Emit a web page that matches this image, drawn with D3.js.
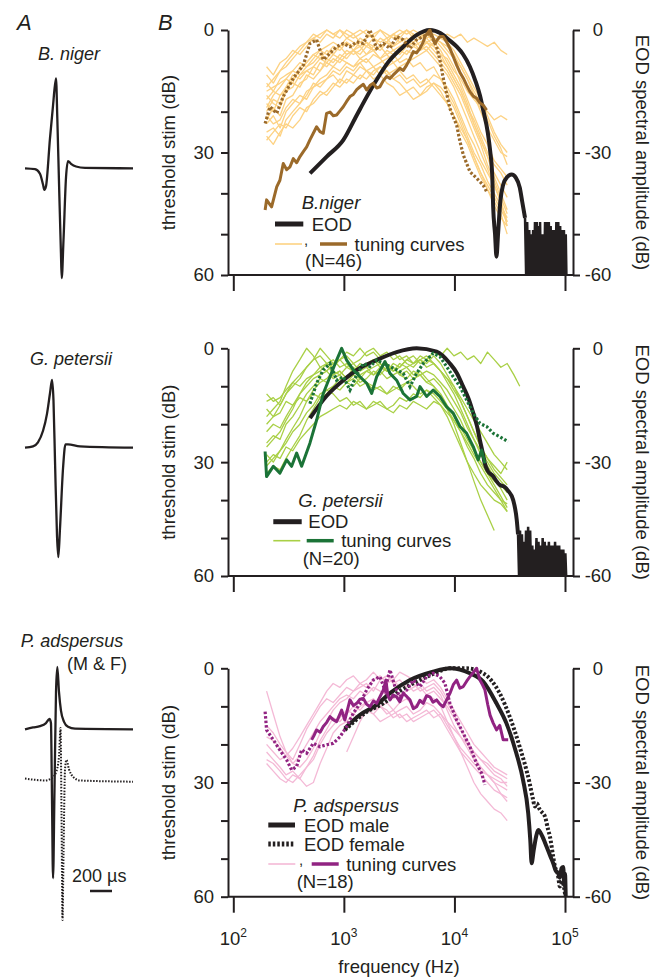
<!DOCTYPE html>
<html>
<head>
<meta charset="UTF-8">
<script src="https://d3js.org/d3.v7.min.js"></script>
<style>
  body { margin: 0; background: #fff; }
  svg text { font-family: "Liberation Sans", Arial, sans-serif; fill: #231f20; }
</style>
</head>
<body>
<svg id="fig" width="662" height="978"></svg>
<script>
// --- frequency grid (Hz) shared by the thin tuning curves ---
const freqGrid = [200,230,265,300,345,400,460,530,610,700,800,920,1060,1220,1400,1600,1850,2130,2450,2800,3200,3700,4250,4900,5600,6500,7500,8600,9900,11400,13100,15000,17300,19900,22900,26300,30000,34500,39000];
const xTicks = [100, 1000, 10000, 100000];
const xTickExp = ["2", "3", "4", "5"];
const yTicks = [0, 10, 20, 30, 40, 50, 60];

// --- B. niger ---
const nigerLight = [
  [14,12,10,9,7,5,3,2,1,0,1,0,2,1,0,1,2,0,1,2,1,0,1,2,1,3,2,1,2,1,3,2,3,4,3,5,6],
  [9,11,8,7,5,6,4,2,3,1,2,0,1,2,1,0,2,3,2,4,3,2,3,5,4,6,8,10,13,16,20,24,28,33,37,41,45],
  [18,20,16,15,12,10,8,6,5,4,3,4,2,3,4,3,5,4,6,5,4,3,2,4,3,5,7,9,12,15,19,22,26,30,33,35,38],
  [22,19,21,17,16,13,12,9,10,7,8,6,7,5,6,4,5,7,6,8,7,5,6,4,5,3,5,8,11,14,18,23,27,31,36,40,44],
  [25,24,26,22,20,18,15,14,12,11,9,10,8,9,7,8,6,7,5,6,8,7,9,8,10,9,12,14,17,21,25,28,32,35,38,42,48],
  [13,15,12,11,10,8,9,7,5,6,4,5,3,4,2,3,5,4,3,5,6,4,3,2,1,2,3,5,7,9,12,16,20,24,27,30,31],
  [27,25,23,24,21,19,20,17,15,16,14,12,13,11,12,10,11,9,10,12,11,13,12,14,13,11,12,15,18,22,26,30,33,37,40,43,46],
  [16,18,19,15,14,11,10,11,8,9,7,8,6,5,7,6,4,5,3,4,2,3,1,2,0,2,4,6,9,13,17,21,25,28,32,34,36],
  [20,17,18,14,13,14,11,12,10,8,9,7,8,9,8,10,9,11,10,12,13,15,14,16,15,13,14,16,19,23,27,31,35,39,42,45,50],
  [23,21,24,20,18,16,17,14,13,12,10,11,9,10,8,7,9,8,7,6,5,6,4,5,3,4,6,7,10,12,15,17,19,20,22,21,22],
  [11,13,10,8,6,4,3,1,2,0,1,2,0,1,3,2,1,0,2,1,3,2,4,3,2,4,6,9,12,15,19,23,27,31,35,38,41],
  [26,28,25,23,24,22,19,18,16,15,13,14,12,13,11,12,10,9,11,10,9,8,7,6,5,7,9,11,14,18,22,26,30,34,38,42,47],
  [19,16,14,12,13,9,8,6,7,5,6,4,3,5,4,6,5,7,9,8,10,12,11,13,12,14,16,18,21,24,27,31,35,38,41,44,47],
  [15,14,13,12,10,11,9,8,6,7,5,4,6,5,3,4,2,4,3,1,2,0,2,1,3,2,3,4,6,9,12,15,18,22,26,29,33],
  [21,23,22,19,17,18,16,13,14,12,11,13,10,11,9,10,12,11,13,14,16,15,17,16,14,13,15,18,21,25,28,32,36,39,43,46,48],
  [17,15,16,14,11,12,10,9,7,8,6,7,5,6,5,3,4,2,3,1,0,1,0,1,2,1,2,3,5,8,11,14,17,21,25,28,30]
];
const nigerEOD = [[494,35.1],[700,31],[990,26.9],[1300,21],[1600,16.5],[1980,12.2],[2500,8],[3440,4.1],[4500,1.3],[6000,0],[7500,0.8],[9000,2.5],[10500,4.1],[12000,6],[13800,9],[15500,12.5],[17000,16],[18200,19.6],[20000,25],[21000,29.4],[22000,36],[22400,43.3],[23300,50],[24000,55.5],[24800,50],[26000,42],[27500,38],[30000,36],[32900,35.4],[36000,36.2],[39000,38.6],[41000,42],[43500,46]];
const nigerNoise = [[43500,46],[44500,60],[45500,47],[46500,60],[47500,49],[48500,60],[49500,50],[50500,60],[51500,49],[52500,60],[53500,47],[54500,60],[55500,47],[56500,60],[57500,48],[58500,60],[59500,47],[60500,60],[61500,50],[62500,60],[63500,50],[64700,60],[66000,47],[67300,60],[68600,47],[70000,60],[71400,47],[72800,60],[74200,48],[75700,60],[77200,49],[78700,60],[80300,49],[81900,60],[83500,47],[85200,60],[86900,47],[88600,60],[90400,48],[92200,60],[94000,49],[95900,60],[97800,49],[99700,60],[101600,50],[103000,60]];
const nigerTuning = [[194,44.1],[200,41.6],[222,43.3],[247,38.4],[264,36.8],[283,32.7],[304,34.2],[326,33.5],[349,31.5],[374,32.5],[401,31],[430,29.8],[461,28.6],[493,26.9],[529,25.3],[567,23.7],[608,24.9],[651,25.3],[698,20.4],[749,20.1],[802,21],[860,20.8],[922,19.8],[988,18.8],[1059,17.5],[1135,16.3],[1217,15.8],[1306,14.6],[1400,13.9],[1500,13.3],[1607,14.7],[1722,13.6],[1845,13],[1980,14.2],[2118,13.9],[2275,12.4],[2436,11.4],[2612,11.9],[2798,11],[3000,10.2],[3213,9.4],[3446,9.9],[3696,8.6],[3960,7.1],[4246,5.3],[4550,5.6],[4877,4.5],[5227,2.9],[5410,1.6],[6000,0],[6427,2.1],[6660,3.3],[7000,2.4],[7390,1.6],[7920,1.6],[8490,2.9],[9100,4.5],[9750,6.5],[10470,8.6],[11220,10.4],[12030,11.8],[12890,13.5],[13810,15.1],[14800,16.2],[15860,16.7],[17000,17.9],[18210,18.4],[19540,19.6]];
const nigerTuningDot = [[194,22.9],[215,18.8],[247,20.4],[283,16.3],[349,11.8],[430,8.6],[493,3.3],[567,2.4],[651,7.3],[749,5.7],[860,4.1],[988,3.3],[1135,4.1],[1306,2.9],[1500,3.3],[1722,0],[1980,4.5],[2275,3.3],[2612,4.5],[3000,1.6],[3446,2.4],[3960,4.5],[4550,2.4],[5227,1.6],[6000,0.8],[6900,4.1],[7390,7.3],[7920,11.8],[9100,19.2],[10470,23.3],[11220,27.3],[12030,30.6],[13810,34.7],[15860,36.3],[18210,38],[19540,39.6]];

// --- G. petersii ---
const petersiiLight = [
  [20,18,15,12,9,7,5,3,2,4,3,5,4,6,5,4,3,5,4,6,5,3,2,4,3,1,2,0,2,1,3,2,4,1,3,5,4,7,10],
  [14,13,15,12,10,8,5,3,0,2,4,3,5,4,6,5,7,6,8,7,6,5,4,3,2,4,6,9,12,16,20,24,28,31,34,37,40],
  [25,23,24,20,18,15,12,10,8,9,7,6,8,5,7,6,5,4,6,5,7,6,8,7,9,8,10,13,16,19,23,27,30,33,36,39,42],
  [30,28,29,26,27,24,22,20,18,17,16,15,16,14,15,16,14,15,16,17,15,16,14,15,16,14,15,17,19,22,25,28,31,34,37,40,43],
  [18,16,14,10,6,3,0,2,5,4,7,6,8,7,9,8,6,7,5,6,4,5,7,6,8,10,13,16,20,25,30,35,40,44,48],
  [28,30,27,25,22,20,17,15,12,11,10,8,9,7,8,6,7,5,6,4,5,3,4,2,3,4,6,8,11,14,18,22,26,29,32,34,36],
  [33,31,32,29,26,23,19,16,13,12,10,11,9,10,8,9,10,11,12,10,11,9,10,12,11,13,15,18,22,26,30,33,36,38,40,41,43],
  [22,20,21,18,15,12,9,7,6,4,5,3,1,2,0,2,1,3,2,1,3,2,4,3,5,4,6,8,10,13,16,19,22,25,28,30,32],
  [16,18,17,14,15,13,14,12,13,11,12,14,13,15,14,16,15,14,16,15,13,14,12,13,11,12,14,16,19,22,26,29,33,36,38,40,41],
  [26,24,22,19,16,12,10,8,7,6,8,7,9,8,10,9,11,10,12,11,10,9,8,7,6,7,9,11,14,17,21,24,27,30,33,35,37],
  [12,14,13,11,9,10,8,7,5,6,4,3,2,4,3,1,0,2,1,3,2,4,5,3,4,2,4,7,10,14,18,22,26,29,31,33,30],
  [31,29,27,24,21,18,14,11,9,8,6,7,5,6,4,5,3,4,6,5,7,8,6,7,9,10,12,15,18,21,24,27,30,33,35,36,38]
];
const petersiiEOD = [[494,18.4],[700,12.5],[990,8.4],[1400,5.2],[1980,3.1],[3000,1],[4550,0],[6900,0.9],[9100,4],[10500,6.5],[12000,10.1],[13500,13.5],[14800,17.1],[16000,20.5],[17000,24.2],[18000,27.5],[18800,30.3],[20000,32.3],[22400,33.7],[24000,35],[25700,36],[28000,36.4],[30500,37.5],[34000,40],[36600,45.2],[37600,49]];
const petersiiNoise = [[37600,49],[38400,60],[39200,48],[40000,60],[40800,49],[41700,60],[42600,51],[43500,60],[44400,48],[45400,60],[46400,47],[47400,60],[48400,48],[49500,60],[50600,52],[51700,60],[52800,53],[54000,60],[55200,50],[56400,60],[57600,51],[58900,60],[60200,52],[61500,60],[62800,50],[64200,60],[65600,51],[67000,60],[68500,52],[70000,60],[71500,51],[73000,60],[74600,52],[76200,60],[77900,52],[79600,60],[81300,51],[83100,60],[84900,52],[86700,60],[88600,52],[90500,60],[92500,53],[94500,60],[96600,53],[98700,60],[100800,54],[102500,60]];
const petersiiTuning = [[194,27.2],[200,33.8],[230,31.1],[264,32.9],[304,29.4],[337,31.1],[374,27.6],[415,31.1],[493,25],[567,18.9],[651,11.9],[749,7.5],[860,3.1],[955,0],[1059,3.1],[1217,5.7],[1400,7.5],[1607,9.2],[1783,11.9],[1980,7.5],[2355,3.5],[2612,6.6],[3000,8.4],[3446,11.9],[3960,13.6],[4550,12.7],[4877,10.1],[5606,12.7],[6427,11],[7390,12.7],[8490,15.4],[9750,17.1],[11220,20.6],[12890,22.4],[14800,25.9],[16410,29.4],[17620,26.8],[18870,30.3]];
const petersiiTuningDot = [[493,14.6],[567,9.2],[651,5.7],[749,4],[860,8.4],[988,7.5],[1135,11],[1306,7],[1500,4],[1722,4.8],[1980,3.1],[2612,4.8],[3446,6.6],[3960,10.1],[4550,6.6],[5227,4],[6427,1.3],[7390,2.2],[8490,4.8],[9750,7.5],[11220,10.1],[12890,13.6],[14800,17.1],[17000,19.8],[19540,20.6],[22430,22.4],[25760,23.3],[30630,24.6]];

// --- P. adspersus ---
const adspersusLight = [
  [6,12,18,22,24,20,16,13,10,8,9,7,5,6,4,5,3,2,4,3,5,4,6,5,7,6,8,10,13,16,19,22,24,26,28,29,31],
  [22,24,26,28,27,29,26,24,20,17,15,13,11,12,10,9,11,10,12,11,9,8,10,9,7,8,10,14,18,22,26,30,33,35,37,38,40],
  [25,27,29,30,28,29,31,30,25,21,17,15,14,12,13,11,12,14,13,12,11,10,12,11,9,10,12,15,18,21,23,25,27,28,29,30,30],
  [18,19,21,23,21,18,15,12,9,6,4,5,3,2,4,3,1,3,2,4,3,5,4,6,5,4,6,9,12,16,20,23,26,28,30,31,32],
  [15,17,20,22,25,23,20,17,14,12,10,8,7,8,6,7,5,6,7,8,7,6,5,4,6,5,7,11,15,18,21,24,26,28,30,33,35],
  [null,null,null,null,null,null,null,null,null,null,null,null,22,18,14,11,12,10,11,13,12,14,13,12,11,13,12,14,16,18,20,22,24,25,27,28,29],
  [20,22,24,23,25,26,24,21,17,14,11,9,8,6,5,4,6,3,2,3,1,2,3,2,4,3,5,8,11,14,17,20,22,24,26,27,28],
  [24,25,27,29,30,28,26,23,19,16,13,14,12,10,11,9,8,10,9,11,13,12,14,13,12,11,13,16,19,22,24,26,28,30,32,33,34]
];
const adspersusEODMale = [[1020,15.8],[1400,12.2],[1980,9.6],[2600,6.6],[3960,3.1],[6400,0.9],[9100,0],[13800,1.3],[18200,3.5],[24000,9.2],[29500,14.4],[36300,22.3],[41700,29.3],[46500,38.1],[48500,45],[49900,51.2],[52000,48],[55000,44],[57300,42.5],[62000,44],[68200,46.9],[74000,49.5],[78200,51.2],[82000,53],[86900,53.9],[90000,55],[93000,52.5],[96400,52.2],[98500,57],[100000,54],[101500,60]];
const adspersusEODFemale = [[1020,16.2],[1600,11.5],[2280,9.2],[3200,6],[4550,3.5],[6400,1.5],[9100,0],[12900,0],[18200,1.3],[25700,6.6],[31600,12.7],[38900,20.6],[47900,30.2],[51000,34],[53500,36.3],[55400,35.5],[59300,37.2],[65800,38.9],[70500,42.5],[73100,44.2],[78200,49.5],[81100,52.1],[86000,54],[90000,57.3],[95000,56],[99800,59],[101000,60]];
const adspersusTuning = [[511,18.8],[540,17.5],[567,16.2],[610,16.8],[651,15.3],[700,14.2],[749,12.7],[800,13.5],[860,14],[955,11],[1020,13.6],[1135,8.3],[1220,9.8],[1306,9.2],[1400,8.1],[1500,7.9],[1600,9.4],[1722,10.1],[1850,8.6],[1980,9.2],[2275,5.7],[2400,3.1],[2500,7.2],[2612,8.3],[2800,7],[3000,7.5],[3200,8.8],[3446,6.6],[3700,7.4],[3960,8.3],[4250,10.6],[4550,10.1],[4877,8.4],[5227,9.2],[5600,7.2],[6000,7.5],[6400,8.9],[6900,8.3],[7400,9.4],[7920,10.1],[8500,8.3],[9100,6.6],[9800,4.2],[10470,3.1],[11200,5.2],[12030,4.8],[12900,3.4],[13810,2.2],[14800,1.1],[15860,0],[17000,3.1],[18000,4.4],[18870,5.7],[20000,9.5],[21000,12.3],[22430,14.4],[24040,16.2],[25700,15],[27600,18.8],[30630,18.8]];
const adspersusTuningDot = [[194,11.4],[200,16.2],[230,18.8],[264,21.5],[304,24.1],[337,26.7],[374,25.8],[415,21.4],[461,22.3],[529,19.7],[608,20.6],[698,20.1],[802,19.7],[922,18],[1059,15.3],[1217,11.8],[1400,9.2],[1607,5.7],[1845,3.1],[2118,2.2],[2355,5.7],[2612,0.4],[2897,4.8],[3213,7.5],[3696,5.7],[4246,3.1],[4877,4.8],[5606,2.2],[6427,1.3],[7390,2.2],[8200,3.9],[9100,9.2],[10470,13.6],[12030,17.1],[13810,20.6],[15860,25],[17620,27.6],[18870,30.6]];

// --- EOD waveforms (time in µs, amplitude normalised) ---
const nigerWave = [[9,0],[100,-0.01],[145,-0.06],[173,-0.18],[185,-0.24],[200,-0.2],[236,0.33],[264,0.7],[291,1.0],[303,0.55],[318,-0.15],[336,-0.95],[343,-1.22],[359,-0.8],[382,-0.1],[400,0.08],[427,0.05],[473,0.02],[555,0.005],[991,0]];
const petersiiWave = [[9,0],[82,0.02],[127,0.08],[173,0.25],[209,0.5],[236,0.8],[255,1.0],[268,0.7],[282,-0.2],[300,-1.3],[312,-1.617],[327,-1.2],[355,-0.3],[377,0.05],[400,0.05],[509,0.02],[991,0]];
const adspersusWaveMale = [[9,0],[82,0.03],[145,0.05],[200,0.1],[232,0.165],[245,0.1],[255,-1.2],[264,-2.39],[277,-1.0],[291,0.6],[303,1.0],[318,0.6],[336,0.3],[364,0.12],[400,0.04],[464,0.01],[991,0]];
const adspersusWaveFemale = [[9,0.05],[100,0.03],[191,0.02],[255,0.06],[291,0.15],[318,0.4],[332,0.86],[341,-0.5],[350,-2.22],[359,-1.2],[373,0.2],[386,0.35],[409,0.2],[445,0.08],[509,0.02],[991,0]];

// --- drawing ---
const ink = "#231f20";
const FS = 18.5;
const svg = d3.select("#fig");
svg.append("rect").attr("width", 662).attr("height", 978).attr("fill", "#fff");

const x = d3.scaleLog().domain([100, 100000]).range([233.3, 565]);
const frameLeft = 228, frameRight = 573;

function drawPanel(p) {
  const y = d3.scaleLinear().domain([0, 60]).range([p.top, p.bottom]);
  const g = svg.append("g");
  const gridLine = d3.line().defined(d => d !== null).x((d, i) => x(freqGrid[i])).y(d => y(d));
  const pairLine = d3.line().x(d => x(d[0])).y(d => y(d[1]));
  const smoothLine = d3.line().x(d => x(d[0])).y(d => y(d[1])).curve(d3.curveMonotoneX);

  // thin tuning curves
  g.selectAll(".light").data(p.light).join("path")
    .attr("d", gridLine).attr("fill", "none")
    .attr("stroke", p.lightColor).attr("stroke-width", 1.3).attr("stroke-linejoin", "round");

  // EOD spectra
  p.eods.forEach(e => {
    g.append("path").attr("d", smoothLine(e.data)).attr("fill", "none")
      .attr("stroke", ink).attr("stroke-width", 4)
      .attr("stroke-dasharray", e.dash || null);
  });
  if (p.noise) {
    g.append("path").attr("d", pairLine(p.noise)).attr("fill", "none")
      .attr("stroke", ink).attr("stroke-width", 2.5).attr("stroke-linejoin", "miter");
  }

  // example tuning curves
  g.append("path").attr("d", pairLine(p.tuning)).attr("fill", "none")
    .attr("stroke", p.darkColor).attr("stroke-width", 3).attr("stroke-linejoin", "round");
  g.append("path").attr("d", pairLine(p.tuningDot)).attr("fill", "none")
    .attr("stroke", p.darkColor).attr("stroke-width", 3.2).attr("stroke-dasharray", "2.5,2");

  // axes
  const left = g.append("g").attr("transform", `translate(${frameLeft},0)`)
    .call(d3.axisLeft(y).tickValues(yTicks).tickSize(7).tickSizeOuter(0).tickPadding(7)
      .tickFormat(d => d % 30 === 0 ? d : ""));
  const right = g.append("g").attr("transform", `translate(${frameRight},0)`)
    .call(d3.axisRight(y).tickValues(yTicks).tickSize(7).tickSizeOuter(0).tickPadding(17)
      .tickFormat(d => d % 30 === 0 ? (d === 0 ? "0" : "-" + d) : ""));
  right.selectAll(".tick text").attr("text-anchor", "middle").attr("x", 25);
  const bottom = g.append("g").attr("transform", `translate(0,${p.bottom})`)
    .call(d3.axisBottom(x).tickValues(xTicks).tickSize(16).tickFormat(""));
  bottom.select(".domain").remove();
  g.append("line").attr("x1", frameLeft).attr("x2", frameRight)
    .attr("y1", p.bottom).attr("y2", p.bottom).attr("stroke", ink).attr("stroke-width", 2);
  [left, right, bottom].forEach(a => {
    a.selectAll(".domain, .tick line").attr("stroke", ink).attr("stroke-width", 2);
    a.selectAll(".tick text").attr("font-size", FS).attr("fill", ink).attr("font-family", "Liberation Sans, Arial, sans-serif");
  });

  if (p.xLabels) {
    const lbl = g.append("g");
    xTicks.forEach((t, i) => {
      const tx = lbl.append("text").attr("x", x(t)).attr("y", 945)
        .attr("text-anchor", "middle").attr("font-size", FS);
      tx.append("tspan").text("10");
      tx.append("tspan").attr("dy", -8).attr("font-size", 12).text(xTickExp[i]);
    });
    g.append("text").attr("x", 399).attr("y", 973).attr("text-anchor", "middle")
      .attr("font-size", FS).text("frequency (Hz)");
  }

  const cy = (p.top + p.bottom) / 2;
  g.append("text").attr("transform", `translate(174.5,${cy}) rotate(-90)`)
    .attr("text-anchor", "middle").attr("font-size", FS).text("threshold stim (dB)");
  g.append("text").attr("transform", `translate(636,${cy}) rotate(90)`)
    .attr("text-anchor", "middle").attr("font-size", FS).text("EOD spectral amplitude (dB)");

  // legend
  const L = p.legend;
  const lg = g.append("g");
  lg.append("text").attr("x", L.x0).attr("y", L.species[1]).attr("font-size", FS)
    .attr("font-style", "italic").text(p.name);
  L.eodRows.forEach(r => {
    lg.append("line").attr("x1", L.lx1).attr("x2", L.lx2).attr("y1", r.y).attr("y2", r.y)
      .attr("stroke", ink).attr("stroke-width", 5).attr("stroke-dasharray", r.dash || null);
    lg.append("text").attr("x", L.tx).attr("y", r.y + 6.5).attr("font-size", FS).text(r.label);
  });
  lg.append("line").attr("x1", L.lx1).attr("x2", L.lx1 + 27).attr("y1", L.tuneY).attr("y2", L.tuneY)
    .attr("stroke", p.lightColor).attr("stroke-width", 1.6);
  if (L.comma) lg.append("text").attr("x", L.comma).attr("y", L.tuneY + 1).attr("font-size", 15).text(",");
  lg.append("line").attr("x1", L.dx).attr("x2", L.dx + 27).attr("y1", L.tuneY).attr("y2", L.tuneY)
    .attr("stroke", p.darkColor).attr("stroke-width", 3.5);
  lg.append("text").attr("x", L.dx + 34.5).attr("y", L.tuneY + 6.5).attr("font-size", FS).text("tuning curves");
  lg.append("text").attr("x", L.nx).attr("y", L.nY).attr("font-size", FS).text(p.n);
}

drawPanel({
  name: "B.niger", n: "(N=46)", top: 30, bottom: 275,
  light: nigerLight, lightColor: "#fdd283", darkColor: "#9b6a2a",
  eods: [{ data: nigerEOD }], noise: nigerNoise,
  tuning: nigerTuning, tuningDot: nigerTuningDot,
  legend: { x0: 301.7, species: [0, 209.3], lx1: 275, lx2: 303.3, tx: 311.7,
    eodRows: [{ y: 224, label: "EOD" }], tuneY: 244, comma: 304, dx: 320, nx: 305, nY: 267 }
});
drawPanel({
  name: "G. petersii", n: "(N=20)", top: 348.3, bottom: 576,
  light: petersiiLight, lightColor: "#a9d046", darkColor: "#1b7337",
  eods: [{ data: petersiiEOD }], noise: petersiiNoise,
  tuning: petersiiTuning, tuningDot: petersiiTuningDot,
  legend: { x0: 298.3, species: [0, 506.7], lx1: 273.3, lx2: 301.7, tx: 308.3,
    eodRows: [{ y: 521.7, label: "EOD" }], tuneY: 540.7, comma: null, dx: 306.7, nx: 302.7, nY: 565 }
});
drawPanel({
  name: "P. adspersus", n: "(N=18)", top: 668.3, bottom: 896.7, xLabels: true,
  light: adspersusLight, lightColor: "#f4b9d6", darkColor: "#912382",
  eods: [{ data: adspersusEODFemale, dash: "2.5,2" }, { data: adspersusEODMale }], noise: null,
  tuning: adspersusTuning, tuningDot: adspersusTuningDot,
  legend: { x0: 293.3, species: [0, 811.7], lx1: 268.3, lx2: 295, tx: 304,
    eodRows: [{ y: 825, label: "EOD male" }, { y: 844, label: "EOD female", dash: "2.5,2" }],
    tuneY: 864, comma: 299, dx: 311.7, nx: 296.7, nY: 888.3 }
});

// --- panel A: waveforms ---
const t = d3.scaleLinear().domain([0, 1000]).range([24, 134]);
function drawWave(data, base, gain, dash) {
  const line = d3.line().x(d => t(d[0])).y(d => base - d[1] * gain).curve(d3.curveMonotoneX);
  svg.append("path").attr("d", line(data)).attr("fill", "none").attr("stroke", ink)
    .attr("stroke-width", dash ? 2 : 2.3).attr("stroke-dasharray", dash || null)
    .attr("stroke-linejoin", "round");
}
drawWave(nigerWave, 168.3, 90);
drawWave(petersiiWave, 447.7, 67.7);
drawWave(adspersusWaveFemale, 781.7, 62.3, "1.5,1.5");
drawWave(adspersusWaveMale, 729.3, 62.3);

svg.append("text").attr("x", 17).attr("y", 30).attr("font-size", 22).attr("font-style", "italic").text("A");
svg.append("text").attr("x", 158).attr("y", 30).attr("font-size", 22).attr("font-style", "italic").text("B");
svg.append("text").attr("x", 69).attr("y", 60).attr("text-anchor", "middle").attr("font-size", 18)
  .attr("font-style", "italic").text("B. niger");
svg.append("text").attr("x", 71).attr("y", 365).attr("text-anchor", "middle").attr("font-size", 18)
  .attr("font-style", "italic").text("G. petersii");
svg.append("text").attr("x", 72).attr("y", 647).attr("text-anchor", "middle").attr("font-size", 18)
  .attr("font-style", "italic").text("P. adspersus");
svg.append("text").attr("x", 127).attr("y", 670).attr("text-anchor", "end").attr("font-size", 18).text("(M & F)");
svg.append("text").attr("x", 72).attr("y", 882).attr("font-size", 18).text("200 µs");
svg.append("line").attr("x1", t(600)).attr("x2", t(800)).attr("y1", 891).attr("y2", 891)
  .attr("stroke", ink).attr("stroke-width", 2.5);
</script>
</body>
</html>
